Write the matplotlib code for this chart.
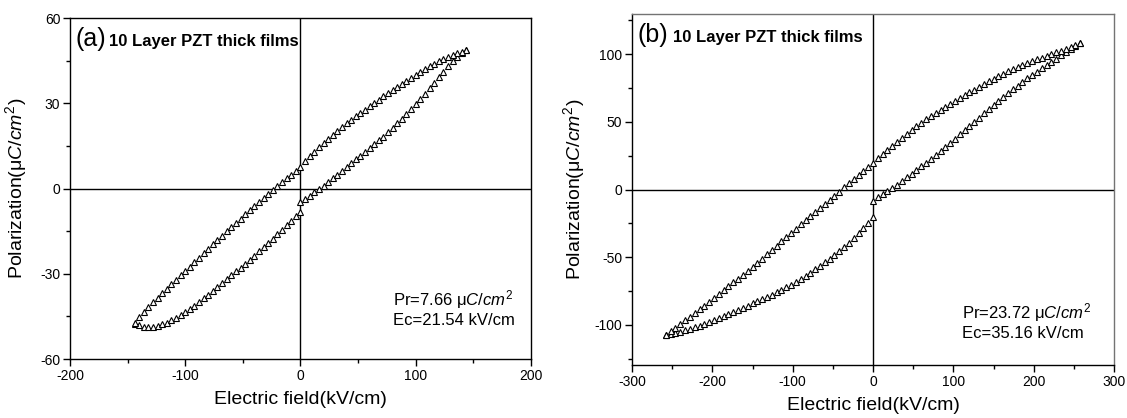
import matplotlib
matplotlib.use("Agg")
import matplotlib.pyplot as plt
from matplotlib.ticker import MultipleLocator

plt.rcParams['font.family'] = ['Liberation Sans', 'DejaVu Sans']
plt.rcParams['mathtext.fontset'] = 'custom'
plt.rcParams['mathtext.rm'] = 'Liberation Sans'
plt.rcParams['mathtext.it'] = 'Liberation Sans:italic'
plt.rcParams['axes.unicode_minus'] = False

# ---- panel (a) data ----
# upper branch (field going down from +Emax to -Emax)
a_up_E = [144, 140, 136, 132, 128, 124, 120, 116, 112, 108, 104, 100, 96, 92, 88, 84,
          80, 76, 72, 68, 64, 60, 56, 52, 48, 44, 40, 36, 32, 28, 24, 20, 16, 12, 8, 4,
          0, -4, -8, -12, -16, -20, -24, -28, -32, -36, -40, -44, -48, -52, -56, -60,
          -64, -68, -72, -76, -80, -84, -88, -92, -96, -100, -104, -108, -112, -116,
          -120, -124, -128, -132, -136, -140, -144]
a_up_P = [48.6, 48.2, 47.6, 47.0, 46.3, 45.5, 44.7, 43.9, 43.0, 42.0, 41.0, 40.0, 39.0,
          37.9, 36.9, 35.8, 34.7, 33.6, 32.5, 31.3, 30.2, 29.0, 27.8, 26.6, 25.4, 24.1,
          22.9, 21.6, 20.3, 18.9, 17.5, 16.1, 14.6, 13.0, 11.4, 9.6, 7.7, 6.3, 4.9, 3.6,
          2.3, 1.0, -0.4, -1.8, -3.2, -4.6, -6.1, -7.6, -9.1, -10.6, -12.1, -13.6, -15.1,
          -16.6, -18.2, -19.7, -21.3, -22.8, -24.4, -25.9, -27.5, -29.0, -30.6, -32.1,
          -33.7, -35.2, -36.8, -38.4, -40.0, -41.6, -43.4, -45.3, -47.3]
# lower branch (field going up from -Emax back to 0, then 0 to +Emax)
a_lo_E = [-144, -140, -136, -132, -128, -124, -120, -116, -112, -108, -104, -100, -96,
          -92, -88, -84, -80, -76, -72, -68, -64, -60, -56, -52, -48, -44, -40, -36,
          -32, -28, -24, -20, -16, -12, -8, -4, 0,
          0, 4, 8, 12, 16, 20, 24, 28, 32, 36, 40, 44, 48, 52, 56, 60, 64, 68, 72, 76,
          80, 84, 88, 92, 96, 100, 104, 108, 112, 116, 120, 124, 128, 132, 136, 140, 144]
a_lo_P = [-47.6, -48.2, -48.6, -48.7, -48.6, -48.3, -47.8, -47.2, -46.4, -45.5, -44.6,
          -43.5, -42.4, -41.2, -40.0, -38.7, -37.4, -36.1, -34.7, -33.4, -32.0, -30.6,
          -29.2, -27.8, -26.4, -25.0, -23.6, -22.1, -20.6, -19.1, -17.6, -16.1, -14.6,
          -13.0, -11.4, -9.8, -8.3,
          -4.8, -3.7, -2.6, -1.4, -0.2, 1.0, 2.3, 3.6, 4.9, 6.3, 7.6, 9.0, 10.4, 11.6,
          12.9, 14.2, 15.5, 16.9, 18.3, 19.8, 21.3, 22.9, 24.5, 26.2, 27.9, 29.7, 31.5,
          33.4, 35.3, 37.3, 39.2, 41.1, 43.0, 44.8, 46.4, 47.7, 48.6]

# ---- panel (b) data ----
b_up_E = [258, 252, 246, 240, 234, 228, 222, 216, 210, 204, 198, 192, 186, 180, 174,
          168, 162, 156, 150, 144, 138, 132, 126, 120, 114, 108, 102, 96, 90, 84, 78,
          72, 66, 60, 54, 48, 42, 36, 30, 24, 18, 12, 6, 0, -6, -12, -18, -24, -30,
          -36, -42, -48, -54, -60, -66, -72, -78, -84, -90, -96, -102, -108, -114,
          -120, -126, -132, -138, -144, -150, -156, -162, -168, -174, -180, -186,
          -192, -198, -204, -210, -216, -222, -228, -234, -240, -246, -252, -258]
b_up_P = [108.5, 107.0, 105.5, 104.0, 102.7, 101.3, 99.9, 98.6, 97.3, 96.3, 95.0, 93.5,
          92.0, 90.5, 88.9, 87.3, 85.6, 83.8, 81.9, 79.9, 77.9, 75.9, 73.9, 72.0, 69.9,
          67.8, 65.7, 63.5, 61.3, 59.1, 56.7, 54.3, 51.9, 49.5, 46.8, 44.0, 41.0, 38.1,
          35.1, 32.0, 29.0, 26.0, 23.0, 19.8, 16.7, 13.6, 10.6, 7.5, 4.5, 1.5, -1.5,
          -4.5, -7.5, -10.5, -13.5, -16.5, -19.5, -22.6, -25.8, -29.0, -32.1, -35.3,
          -38.4, -41.5, -44.7, -47.8, -51.0, -54.0, -57.0, -60.0, -63.0, -65.9, -68.7,
          -71.5, -74.4, -77.2, -80.1, -82.9, -85.8, -88.6, -91.4, -94.1, -96.8, -99.5,
          -102.2, -104.8, -107.5]
b_lo_E = [-258, -252, -246, -240, -234, -228, -222, -216, -210, -204, -198, -192, -186,
          -180, -174, -168, -162, -156, -150, -144, -138, -132, -126, -120, -114, -108,
          -102, -96, -90, -84, -78, -72, -66, -60, -54, -48, -42, -36, -30, -24, -18,
          -12, -6, 0,
          0, 6, 12, 18, 24, 30, 36, 42, 48, 54, 60, 66, 72, 78, 84, 90, 96, 102, 108,
          114, 120, 126, 132, 138, 144, 150, 156, 162, 168, 174, 180, 186, 192, 198,
          204, 210, 216, 222, 228, 234, 240, 246, 252, 258]
b_lo_P = [-107.5, -106.8, -106.0, -105.0, -104.0, -102.9, -101.8, -100.6, -99.3, -97.9,
          -96.5, -95.0, -93.5, -92.0, -90.4, -88.9, -87.4, -85.8, -84.2, -82.6, -81.0,
          -79.4, -77.7, -76.0, -74.1, -72.2, -70.2, -68.1, -66.0, -63.7, -61.4, -58.9,
          -56.4, -53.8, -51.1, -48.3, -45.4, -42.4, -39.3, -36.0, -32.5, -28.6, -24.6,
          -20.3,
          -8.2, -5.8, -3.5, -1.2, 1.2, 3.7, 6.2, 8.9, 11.6, 14.3, 17.1, 19.9, 22.8, 25.7,
          28.6, 31.6, 34.6, 37.7, 40.7, 43.8, 46.9, 50.0, 53.1, 56.2, 59.3, 62.4, 65.4,
          68.4, 71.3, 74.1, 76.8, 79.5, 82.1, 84.7, 87.2, 89.7, 92.1, 94.5, 96.8, 99.1,
          101.4, 103.8, 106.1, 108.5]

a_xticks = [-200, -100, 0, 100, 200]
a_yticks = [-60, -30, 0, 30, 60]
b_xticks = [-300, -200, -100, 0, 100, 200, 300]
b_yticks = [-100, -50, 0, 50, 100]

a_note = ['Pr=7.66 μ$\\mathit{C/cm^2}$', 'Ec=21.54 kV/cm']
b_note = ['Pr=23.72 μ$\\mathit{C/cm^2}$', 'Ec=35.16 kV/cm']

fig = plt.figure(figsize=(11.27, 4.18), dpi=100)
axa = fig.add_axes([0.0621, 0.1411, 0.409, 0.8158])
axb = fig.add_axes([0.5608, 0.1258, 0.4277, 0.8416])


def style(ax, xt, yt, xmin, ymin, xl, yl, note, nx, ny, tag):
    ax.axhline(0, color='black', lw=1.0, zorder=1)
    ax.axvline(0, color='black', lw=1.0, zorder=1)
    ax.set_xticks(xt)
    ax.set_yticks(yt)
    ax.set_xlim(xl)
    ax.set_ylim(yl)
    ax.xaxis.set_minor_locator(MultipleLocator(xmin))
    ax.yaxis.set_minor_locator(MultipleLocator(ymin))
    ax.tick_params(which='major', direction='out', length=5, width=1, labelsize=10, pad=2)
    ax.tick_params(which='minor', direction='out', length=3, width=1)
    for s in ax.spines.values():
        s.set_linewidth(1.0)
    ax.set_xlabel('Electric field(kV/cm)', fontsize=14)
    ax.set_ylabel('Polarization(μ$\\mathit{C/cm^2}$)', fontsize=14)
    ax.text(nx, ny[0], note[0], fontsize=12, va='baseline')
    ax.text(nx, ny[1], note[1], fontsize=12, va='baseline')
    ax.text(0.011, 0.918, tag, transform=ax.transAxes, fontsize=18, va='baseline')
    ax.text(0.085, 0.918, '10 Layer PZT thick films', transform=ax.transAxes,
            fontsize=12, fontweight='bold', va='baseline')


mk = dict(ls='none', marker='^', ms=5, mfc='white', mec='black', mew=0.8, zorder=3)
axa.plot(a_lo_E, a_lo_P, **mk)
axa.plot(a_up_E, a_up_P, **mk)
axb.plot(b_lo_E, b_lo_P, **mk)
axb.plot(b_up_E, b_up_P, **mk)

style(axa, a_xticks, a_yticks, 50, 15, (-200, 200), (-60, 60), a_note, 80, (-41, -48.1), '(a)')
style(axb, b_xticks, b_yticks, 50, 25, (-300, 300), (-130, 130), b_note, 111, (-95.6, -109.8), '(b)')

axa.xaxis.set_label_coords(0.5, -0.094)
axa.yaxis.set_label_coords(-0.089, 0.5)
axb.xaxis.set_label_coords(0.5, -0.09)
axb.yaxis.set_label_coords(-0.093, 0.5)
axb.spines['top'].set_color('0.45')
axb.spines['right'].set_color('0.45')

fig.savefig('out.png', dpi=100)
